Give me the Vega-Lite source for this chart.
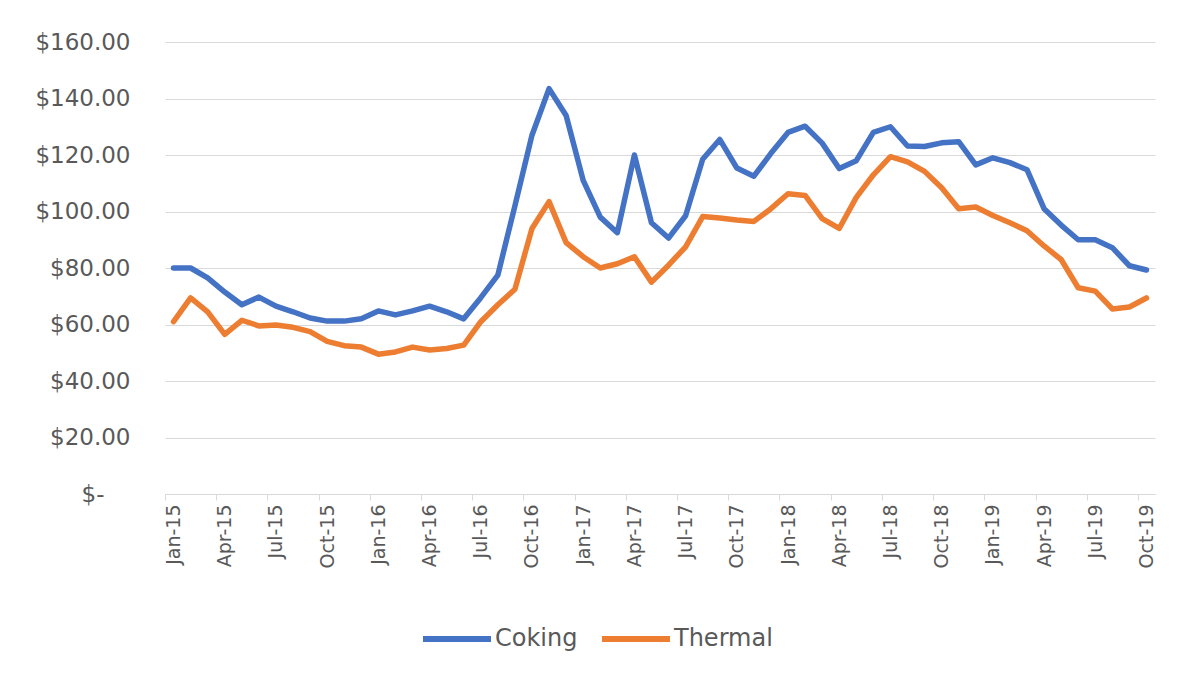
{
  "$schema": "https://vega.github.io/schema/vega-lite/v6.json",
  "autosize": {"type": "none"},
  "width": 990,
  "height": 452,
  "padding": {"left": 165, "top": 42, "right": 24, "bottom": 181},
  "background": "white",
  "config": {
    "view": {"stroke": null},
    "font": "DejaVu Sans"
  },
  "data": {
    "values": [
      {"month": "Jan-15", "series": "Coking", "price": 80}, {"month": "Jan-15", "series": "Thermal", "price": 61},
      {"month": "Feb-15", "series": "Coking", "price": 80}, {"month": "Feb-15", "series": "Thermal", "price": 69.4},
      {"month": "Mar-15", "series": "Coking", "price": 76.5}, {"month": "Mar-15", "series": "Thermal", "price": 64.5},
      {"month": "Apr-15", "series": "Coking", "price": 71.5}, {"month": "Apr-15", "series": "Thermal", "price": 56.5},
      {"month": "May-15", "series": "Coking", "price": 67}, {"month": "May-15", "series": "Thermal", "price": 61.5},
      {"month": "Jun-15", "series": "Coking", "price": 69.7}, {"month": "Jun-15", "series": "Thermal", "price": 59.5},
      {"month": "Jul-15", "series": "Coking", "price": 66.5}, {"month": "Jul-15", "series": "Thermal", "price": 59.8},
      {"month": "Aug-15", "series": "Coking", "price": 64.5}, {"month": "Aug-15", "series": "Thermal", "price": 59},
      {"month": "Sep-15", "series": "Coking", "price": 62.3}, {"month": "Sep-15", "series": "Thermal", "price": 57.5},
      {"month": "Oct-15", "series": "Coking", "price": 61.2}, {"month": "Oct-15", "series": "Thermal", "price": 54},
      {"month": "Nov-15", "series": "Coking", "price": 61.2}, {"month": "Nov-15", "series": "Thermal", "price": 52.5},
      {"month": "Dec-15", "series": "Coking", "price": 62}, {"month": "Dec-15", "series": "Thermal", "price": 52},
      {"month": "Jan-16", "series": "Coking", "price": 64.8}, {"month": "Jan-16", "series": "Thermal", "price": 49.5},
      {"month": "Feb-16", "series": "Coking", "price": 63.4}, {"month": "Feb-16", "series": "Thermal", "price": 50.3},
      {"month": "Mar-16", "series": "Coking", "price": 64.8}, {"month": "Mar-16", "series": "Thermal", "price": 52},
      {"month": "Apr-16", "series": "Coking", "price": 66.5}, {"month": "Apr-16", "series": "Thermal", "price": 51},
      {"month": "May-16", "series": "Coking", "price": 64.5}, {"month": "May-16", "series": "Thermal", "price": 51.5},
      {"month": "Jun-16", "series": "Coking", "price": 62}, {"month": "Jun-16", "series": "Thermal", "price": 52.7},
      {"month": "Jul-16", "series": "Coking", "price": 69.5}, {"month": "Jul-16", "series": "Thermal", "price": 61},
      {"month": "Aug-16", "series": "Coking", "price": 77.5}, {"month": "Aug-16", "series": "Thermal", "price": 67},
      {"month": "Sep-16", "series": "Coking", "price": 102}, {"month": "Sep-16", "series": "Thermal", "price": 72.5},
      {"month": "Oct-16", "series": "Coking", "price": 127}, {"month": "Oct-16", "series": "Thermal", "price": 94},
      {"month": "Nov-16", "series": "Coking", "price": 143.5}, {"month": "Nov-16", "series": "Thermal", "price": 103.5},
      {"month": "Dec-16", "series": "Coking", "price": 134}, {"month": "Dec-16", "series": "Thermal", "price": 89},
      {"month": "Jan-17", "series": "Coking", "price": 111}, {"month": "Jan-17", "series": "Thermal", "price": 84},
      {"month": "Feb-17", "series": "Coking", "price": 98}, {"month": "Feb-17", "series": "Thermal", "price": 80},
      {"month": "Mar-17", "series": "Coking", "price": 92.5}, {"month": "Mar-17", "series": "Thermal", "price": 81.5},
      {"month": "Apr-17", "series": "Coking", "price": 120}, {"month": "Apr-17", "series": "Thermal", "price": 84},
      {"month": "May-17", "series": "Coking", "price": 96}, {"month": "May-17", "series": "Thermal", "price": 75},
      {"month": "Jun-17", "series": "Coking", "price": 90.6}, {"month": "Jun-17", "series": "Thermal", "price": 81},
      {"month": "Jul-17", "series": "Coking", "price": 98.5}, {"month": "Jul-17", "series": "Thermal", "price": 87.5},
      {"month": "Aug-17", "series": "Coking", "price": 118.5}, {"month": "Aug-17", "series": "Thermal", "price": 98.2},
      {"month": "Sep-17", "series": "Coking", "price": 125.5}, {"month": "Sep-17", "series": "Thermal", "price": 97.7},
      {"month": "Oct-17", "series": "Coking", "price": 115.4}, {"month": "Oct-17", "series": "Thermal", "price": 97},
      {"month": "Nov-17", "series": "Coking", "price": 112.5}, {"month": "Nov-17", "series": "Thermal", "price": 96.5},
      {"month": "Dec-17", "series": "Coking", "price": 120.6}, {"month": "Dec-17", "series": "Thermal", "price": 101},
      {"month": "Jan-18", "series": "Coking", "price": 128}, {"month": "Jan-18", "series": "Thermal", "price": 106.3},
      {"month": "Feb-18", "series": "Coking", "price": 130.2}, {"month": "Feb-18", "series": "Thermal", "price": 105.7},
      {"month": "Mar-18", "series": "Coking", "price": 124.2}, {"month": "Mar-18", "series": "Thermal", "price": 97.5},
      {"month": "Apr-18", "series": "Coking", "price": 115.2}, {"month": "Apr-18", "series": "Thermal", "price": 94},
      {"month": "May-18", "series": "Coking", "price": 118}, {"month": "May-18", "series": "Thermal", "price": 105},
      {"month": "Jun-18", "series": "Coking", "price": 128}, {"month": "Jun-18", "series": "Thermal", "price": 113},
      {"month": "Jul-18", "series": "Coking", "price": 130}, {"month": "Jul-18", "series": "Thermal", "price": 119.4},
      {"month": "Aug-18", "series": "Coking", "price": 123.2}, {"month": "Aug-18", "series": "Thermal", "price": 117.6},
      {"month": "Sep-18", "series": "Coking", "price": 123}, {"month": "Sep-18", "series": "Thermal", "price": 114.2},
      {"month": "Oct-18", "series": "Coking", "price": 124.3}, {"month": "Oct-18", "series": "Thermal", "price": 108.4},
      {"month": "Nov-18", "series": "Coking", "price": 124.7}, {"month": "Nov-18", "series": "Thermal", "price": 101},
      {"month": "Dec-18", "series": "Coking", "price": 116.5}, {"month": "Dec-18", "series": "Thermal", "price": 101.6},
      {"month": "Jan-19", "series": "Coking", "price": 119}, {"month": "Jan-19", "series": "Thermal", "price": 98.6},
      {"month": "Feb-19", "series": "Coking", "price": 117.3}, {"month": "Feb-19", "series": "Thermal", "price": 96},
      {"month": "Mar-19", "series": "Coking", "price": 114.8}, {"month": "Mar-19", "series": "Thermal", "price": 93.2},
      {"month": "Apr-19", "series": "Coking", "price": 101}, {"month": "Apr-19", "series": "Thermal", "price": 87.8},
      {"month": "May-19", "series": "Coking", "price": 95.2}, {"month": "May-19", "series": "Thermal", "price": 83},
      {"month": "Jun-19", "series": "Coking", "price": 90}, {"month": "Jun-19", "series": "Thermal", "price": 73},
      {"month": "Jul-19", "series": "Coking", "price": 90}, {"month": "Jul-19", "series": "Thermal", "price": 71.8},
      {"month": "Aug-19", "series": "Coking", "price": 87.2}, {"month": "Aug-19", "series": "Thermal", "price": 65.5},
      {"month": "Sep-19", "series": "Coking", "price": 80.8}, {"month": "Sep-19", "series": "Thermal", "price": 66.2},
      {"month": "Oct-19", "series": "Coking", "price": 79.3}, {"month": "Oct-19", "series": "Thermal", "price": 69.4}
    ]
  },
  "mark": {"type": "line", "strokeWidth": 5.5, "strokeJoin": "round", "strokeCap": "round"},
  "encoding": {
    "x": {
      "field": "month",
      "type": "ordinal",
      "sort": null,
      "scale": {"type": "point", "padding": 0.5},
      "axis": {
        "title": null,
        "values": ["Jan-15","Apr-15","Jul-15","Oct-15","Jan-16","Apr-16","Jul-16","Oct-16","Jan-17","Apr-17","Jul-17","Oct-17","Jan-18","Apr-18","Jul-18","Oct-18","Jan-19","Apr-19","Jul-19","Oct-19"],
        "labelAngle": -90,
        "labelFontSize": 19,
        "labelColor": "#595959",
        "labelPadding": 4,
        "tickOffset": -8.53,
        "labelOffset": 8.53,
        "tickColor": "#d9d9d9",
        "tickSize": 6,
        "domainColor": "#d9d9d9",
        "domainWidth": 1,
        "grid": false
      }
    },
    "y": {
      "field": "price",
      "type": "quantitative",
      "scale": {"domain": [0, 160], "nice": false},
      "axis": {
        "title": null,
        "values": [0, 20, 40, 60, 80, 100, 120, 140, 160],
        "labelExpr": "datum.value === 0 ? '$-' : '$' + format(datum.value, '.2f')",
        "labelFontSize": 23,
        "labelColor": "#595959",
        "labelPadding": {"condition": {"test": "datum.value === 0", "value": 61}, "value": 35},
        "ticks": false,
        "domain": false,
        "grid": true,
        "gridColor": "#d9d9d9",
        "gridWidth": 1
      }
    },
    "color": {
      "field": "series",
      "type": "nominal",
      "scale": {"domain": ["Coking", "Thermal"], "range": ["#4472C4", "#ED7D31"]},
      "legend": {
        "title": null,
        "orient": "none",
        "direction": "horizontal",
        "legendX": 255,
        "legendY": 560,
        "symbolType": "stroke",
        "symbolSize": 4624,
        "symbolStrokeWidth": 6,
        "labelFontSize": 24,
        "labelColor": "#595959",
        "labelOffset": 1,
        "columnPadding": 12
      }
    }
  }
}
